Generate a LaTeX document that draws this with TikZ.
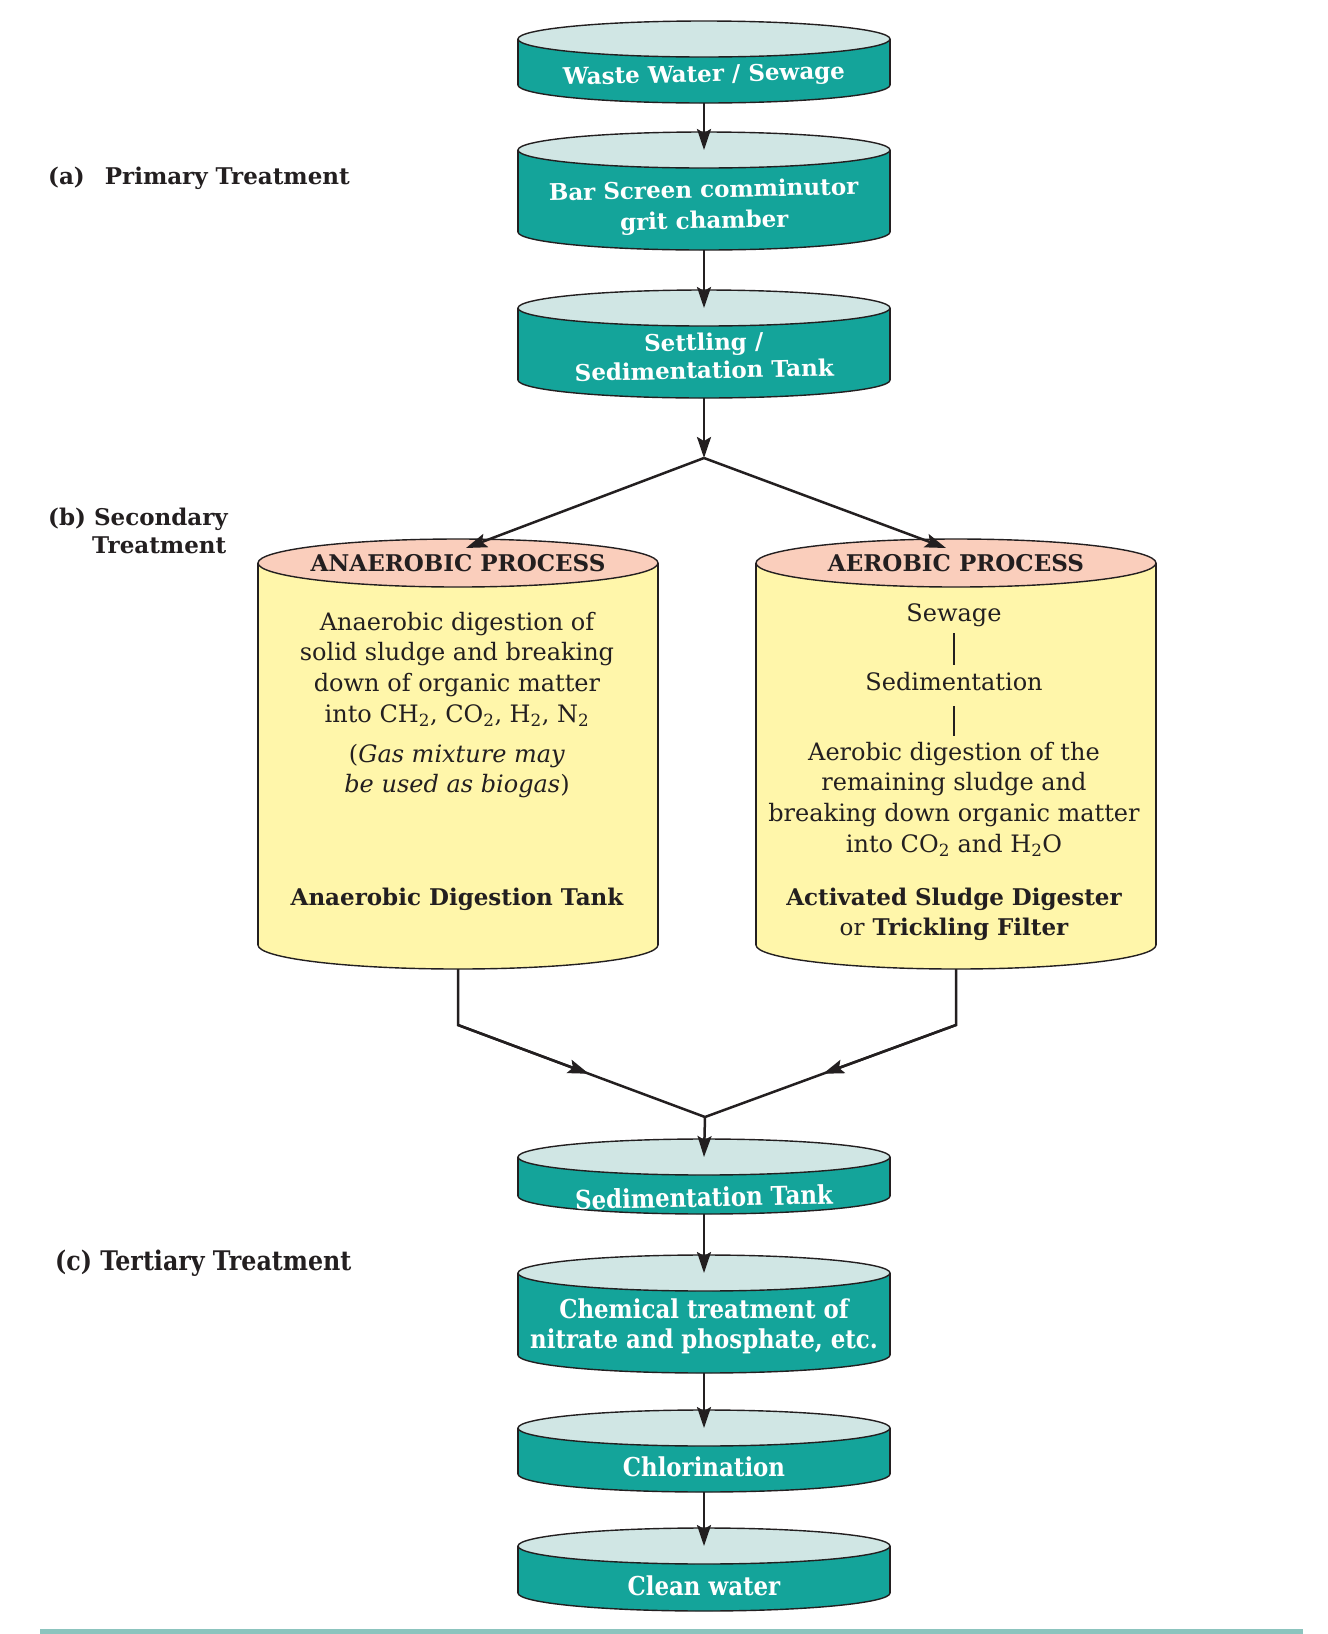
\documentclass[tikz,border=0pt]{standalone}
\usepackage{fontspec}
\setmainfont{DejaVu Serif}
\newfontfamily\condf[FakeStretch=0.88]{DejaVu Serif}
\usetikzlibrary{arrows.meta,calc}
\definecolor{tealbody}{RGB}{20,164,154}
\definecolor{tealtop}{RGB}{208,230,228}
\definecolor{ybody}{RGB}{255,246,170}
\definecolor{stop}{RGB}{250,206,188}
\definecolor{outl}{RGB}{35,31,32}
\definecolor{botline}{RGB}{140,196,190}
\newcommand\fsz[2]{\fontsize{#1}{#2}\selectfont}
% name, cx, rx, ry, T, B, body colour, top colour
\newcommand\cylshape[8]{%
  \filldraw[cylline, fill=#7] (#2,#6) ellipse [x radius=#3, y radius=#4];
  \fill[#7] (#2-#3,#5) rectangle (#2+#3,#6);
  \draw[cylline] (#2-#3,#5) -- (#2-#3,#6) (#2+#3,#5) -- (#2+#3,#6);
  \filldraw[cylline, fill=#8] (#2,#5) ellipse [x radius=#3, y radius=#4];
  \coordinate (#1-top) at (#2,#5);
  \coordinate (#1-bot) at (#2,#6+#4);
}
\tikzset{
  cylline/.style={line width=1.4pt, draw=outl},
  arr/.style={line width=2.5pt, draw=outl, -{Stealth[length=21pt,width=14pt,inset=4pt]}},
  ln/.style={line width=2.5pt, draw=outl},
  tealtxt/.style={text=white, font=\fsz{23}{31}\bfseries, align=center, inner sep=0pt},
  tealcond/.style={text=white, font=\condf\fsz{26}{30}\bfseries, align=center, inner sep=0pt},
  lbl/.style={text=outl, font=\fsz{23}{28}\bfseries, align=left, inner sep=0pt},
  lblc/.style={text=outl, font=\condf\fsz{27}{30}\bfseries, inner sep=0pt},
  head/.style={text=outl, font=\fsz{23}{30}\bfseries, align=center, inner sep=0pt},
  body/.style={text=outl, font=\fsz{24}{30.7}\selectfont, align=center, inner sep=0pt},
  bodyb/.style={text=outl, font=\fsz{23}{30}\bfseries, align=center, inner sep=0pt},
}
\begin{document}
\begin{tikzpicture}[x=1pt,y=-1pt]
\useasboundingbox (0,0) rectangle (1328,1634);
\fill[white] (0,0) rectangle (1328,1634);

% teal cylinders (upper)
\cylshape{ww}{704}{186}{18}{39}{85}{tealbody}{tealtop}
\cylshape{bs}{704}{186}{18}{150}{232}{tealbody}{tealtop}
\cylshape{st}{704}{186}{18}{308}{380}{tealbody}{tealtop}
% big cylinders
\cylshape{an}{458}{200}{24}{563}{945}{ybody}{stop}
\cylshape{ae}{956}{200}{24}{563}{945}{ybody}{stop}
% teal cylinders (lower)
\cylshape{sd}{704}{186}{18}{1157}{1196}{tealbody}{tealtop}
\cylshape{ch}{704}{186}{18}{1273}{1355}{tealbody}{tealtop}
\cylshape{cl}{704}{186}{18}{1428}{1474}{tealbody}{tealtop}
\cylshape{cw}{704}{186}{18}{1546}{1593}{tealbody}{tealtop}

% texts in teal cylinders
\node[tealtxt, rotate=1.2] (wwt) at (704,76) {Waste Water / Sewage};
\node[tealtxt, rotate=1.2] (bst) at (704,207) {Bar Screen comminutor\\grit chamber};
\node[tealtxt, rotate=1.2, font=\fsz{23}{28}\bfseries] (stt) at (704,356) {Settling /\\Sedimentation Tank};
\node[tealcond, rotate=1.2] (sdt) at (704,1197) {Sedimentation Tank};
\node[tealcond] (cht) at (704,1326) {Chemical treatment of\\nitrate and phosphate, etc.};
\node[tealcond] (clt) at (704,1467) {Chlorination};
\node[tealcond] (cwt) at (704,1586) {Clean water};

% big cylinder contents
\node[head] (anh) at (458,563) {ANAEROBIC PROCESS};
\node[head] (aeh) at (956,563) {AEROBIC PROCESS};
\node[body] (an1) at (457,669) {Anaerobic digestion of\\solid sludge and breaking\\down of organic matter\\into CH\textsubscript{2}, CO\textsubscript{2}, H\textsubscript{2}, N\textsubscript{2}};
\node[body] (an2) at (457,771) {(\textit{Gas mixture may}\\\textit{be used as biogas})};
\node[bodyb] (an3) at (457,899) {Anaerobic Digestion Tank};

\node[body] (ae1) at (954,615) {Sewage};
\node[body] (ae2) at (954,682) {Sedimentation};
\node[body] (ae3) at (954,799) {Aerobic digestion of the\\remaining sludge and\\breaking down organic matter\\into CO\textsubscript{2} and H\textsubscript{2}O};
\node[bodyb] (ae4) at (954,914) {Activated Sludge Digester\\\textmd{or} Trickling Filter};
\draw[line width=2pt, draw=outl] (ae1) ++(0,18) coordinate (s1a) -- ($(ae2)+(0,-17)$) coordinate (s1b);
\draw[line width=2pt, draw=outl] (ae2) ++(0,24) coordinate (s2a) -- ($(ae3)+(0,-63)$) coordinate (s2b);

% side labels
\node[lbl, anchor=west] (la) at (48,178) {(a)\hspace{20pt}Primary Treatment};
\node[lbl, anchor=west] (lb) at (48,531) {(b) Secondary\\\hspace*{44pt}Treatment};
\node[lblc, anchor=west] (lc) at (55,1263) {(c) Tertiary Treatment};

% connectors
\coordinate (j1) at (704,458);
\coordinate (an-in) at (466,548);
\coordinate (ae-in) at (946,548);
\coordinate (lk) at (458,1025);
\coordinate (rk) at (956,1025);
\coordinate (j2) at (705,1117);
\draw[arr] (ww-bot) -- (bs-top);
\draw[arr] (bs-bot) -- (st-top);
\draw[arr] (st-bot) -- (j1);
\draw[arr] (j1) -- (an-in);
\draw[arr] (j1) -- (ae-in);
\draw[ln] (an-bot) -- (lk) -- (j2);
\draw[ln] (ae-bot) -- (rk) -- (j2);
\draw[arr] (lk) -- ($(lk)!0.53!(j2)$);
\draw[arr] (rk) -- ($(rk)!0.53!(j2)$);
\draw[arr] (j2) -- (sd-top);
\draw[arr] (sd-bot) -- (ch-top);
\draw[arr] (ch-bot) -- (cl-top);
\draw[arr] (cl-bot) -- (cw-top);

% bottom rule
\fill[botline] (40,1629) rectangle (1303,1634);
\end{tikzpicture}
\end{document}
